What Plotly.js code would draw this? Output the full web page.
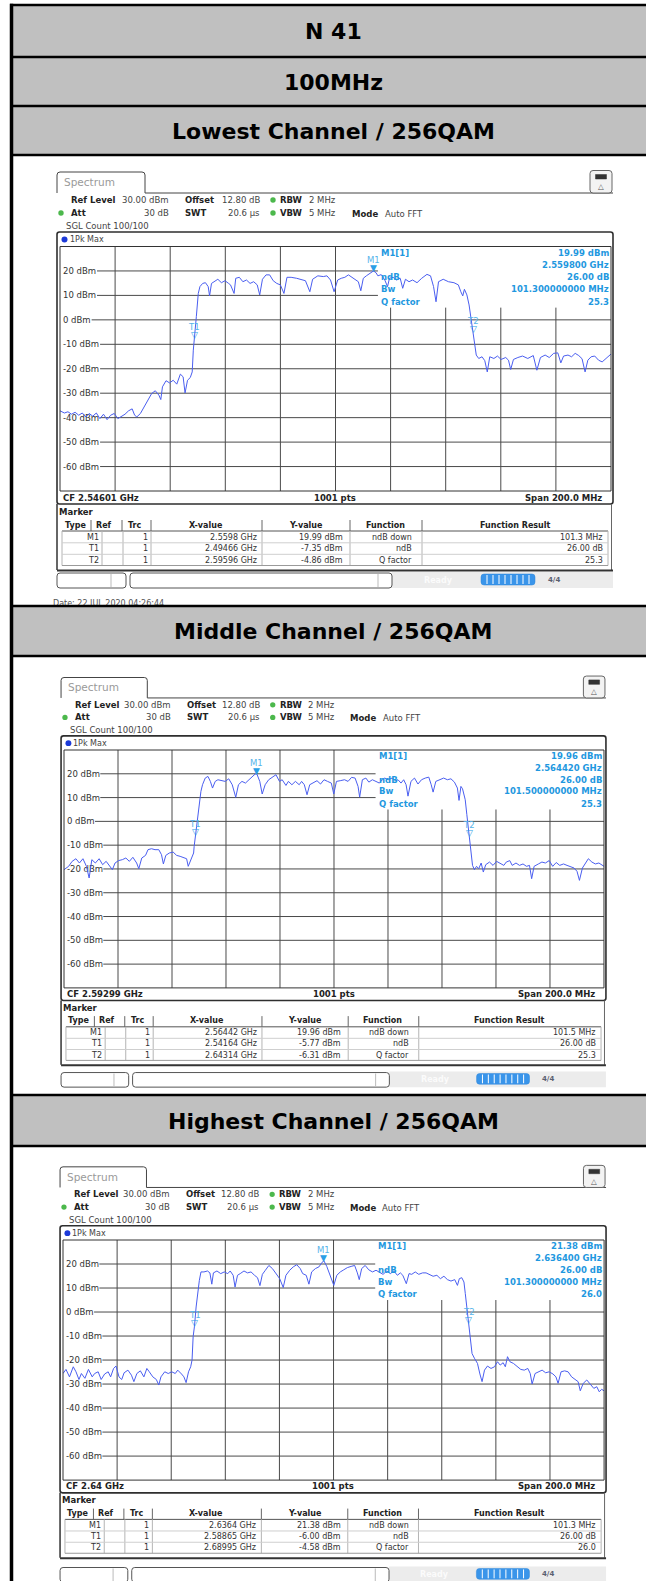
<!DOCTYPE html>
<html><head><meta charset="utf-8">
<script src="https://cdn.plot.ly/plotly-3.0.1.min.js"></script>
<style>html,body{margin:0;padding:0;background:#fff;}#chart{width:646px;height:1581px;}</style>
</head><body><div id="chart"></div>
<script>
// ================= DATA =================
const rowTitles = ['N 41', '100MHz', 'Lowest Channel / 256QAM', 'Middle Channel / 256QAM', 'Highest Channel / 256QAM'];
const yTickVals = [20, 10, 0, -10, -20, -30, -40, -50, -60];
const yTickText = yTickVals.map(v => v + ' dBm');
const centerFreqMHz = [2546.01, 2592.99, 2640.00];
const spanMHz = 200;
const cfText = ['CF 2.54601 GHz', 'CF 2.59299 GHz', 'CF 2.64 GHz'];
const markerNames = ['M1', 'T1', 'T2'];
const functionNames = ['ndB down', 'ndB', 'Q factor'];

// Lowest channel trace (MHz, dBm)
const lowFreqMHz = [2446.0,2447.6,2448.9,2450.2,2451.5,2452.8,2454.1,2455.4,2456.6,2457.9,
2459.2,2460.5,2461.8,2463.1,2464.4,2465.7,2467.0,2468.3,2469.6,2470.9,
2472.2,2473.1,2473.9,2475.2,2476.5,2477.8,2479.3,2480.6,2481.9,2482.6,
2483.2,2484.5,2485.8,2487.1,2488.4,2489.7,2490.7,2491.4,2492.3,2493.3,
2494.0,2494.4,2494.9,2495.5,2496.2,2496.8,2497.8,2498.8,2499.8,2500.3,
2501.0,2502.0,2503.3,2504.6,2505.9,2507.2,2507.9,2509.2,2509.8,2511.1,
2512.4,2513.7,2515.0,2516.3,2517.6,2518.5,2519.5,2520.8,2522.1,2523.4,
2524.7,2526.0,2527.3,2528.4,2529.9,2531.9,2533.8,2535.1,2536.7,2537.7,
2539.6,2541.6,2542.9,2544.2,2545.5,2546.8,2548.1,2549.4,2550.7,2552.0,
2553.3,2554.3,2555.2,2556.1,2557.2,2558.5,2559.8,2560.7,2561.4,2562.6,
2563.9,2564.9,2565.6,2566.9,2568.2,2569.5,2570.4,2571.4,2572.7,2574.0,
2575.6,2577.3,2579.2,2580.5,2581.6,2582.5,2583.4,2585.1,2587.0,2589.0,
2590.6,2591.5,2592.2,2592.8,2593.7,2594.5,2595.2,2596.0,2596.6,2597.1,
2598.0,2599.2,2600.2,2601.1,2602.0,2603.5,2604.8,2606.1,2607.8,2608.8,
2609.6,2610.6,2612.2,2613.9,2615.8,2617.8,2619.1,2620.4,2622.1,2623.6,
2625.2,2626.7,2627.8,2628.8,2630.4,2631.7,2633.0,2634.3,2635.5,2636.6,
2637.6,2638.8,2640.1,2641.5,2642.8,2644.4,2646.0];
const lowLevelDbm = [-37.2,-38.1,-37.6,-38.6,-37.8,-39.0,-38.1,-39.7,-38.3,-39.4,
-38.1,-40.4,-38.6,-40.8,-39.0,-38.3,-40.4,-39.4,-38.6,-37.2,
-36.4,-39.0,-39.7,-38.3,-35.6,-32.9,-30.1,-29.0,-30.8,-32.6,
-27.4,-24.9,-25.8,-24.7,-26.3,-22.2,-23.3,-29.9,-24.7,-23.6,
-21.3,-12.4,-6.9,1.3,10.8,13.6,14.9,15.2,13.6,9.8,
14.9,15.6,16.6,15.2,16.0,14.9,14.3,10.8,17.0,17.4,
15.6,16.3,14.9,15.6,14.3,10.2,16.6,18.4,18.4,16.0,
14.9,14.3,10.8,17.4,17.4,17.0,16.3,16.0,11.5,16.6,
18.0,17.7,18.0,16.3,11.5,16.3,17.0,17.4,18.4,17.4,
16.6,15.6,11.9,17.0,18.0,19.0,20.0,19.3,18.0,18.5,
16.3,13.6,17.0,17.4,16.3,17.0,12.9,16.6,15.6,16.3,
15.2,17.0,18.6,18.0,13.6,7.4,15.6,16.6,15.6,15.2,
14.3,11.5,9.8,12.5,10.2,6.1,0.6,-4.9,-11.7,-14.4,
-15.8,-15.1,-16.7,-21.3,-15.1,-15.8,-14.8,-16.2,-15.4,-16.5,
-20.3,-16.2,-15.4,-14.8,-15.8,-14.6,-20.6,-15.4,-14.4,-15.4,
-13.7,-13.5,-17.6,-14.8,-14.4,-15.1,-13.7,-14.6,-15.9,-21.3,
-16.5,-15.1,-14.8,-16.5,-17.2,-15.4,-14.0];
const lowMarkerGHz = [2.5598, 2.49466, 2.59596];
const lowMarkerDbm = [19.99, -7.35, -4.86];
const lowMarkerXText = ['2.5598 GHz', '2.49466 GHz', '2.59596 GHz'];
const lowFuncResult = ['101.3 MHz', '26.00 dB', '25.3'];
const lowInfo = ['19.99 dBm', '2.559800 GHz', '26.00 dB', '101.300000000 MHz', '25.3'];

// Middle channel trace
const midFreqMHz = [2493.0,2494.7,2496.0,2497.4,2498.7,2500.0,2501.3,2502.3,2503.3,2504.6,
2506.0,2507.3,2508.6,2509.9,2510.9,2511.9,2513.2,2514.6,2515.9,2517.2,
2518.5,2519.9,2520.7,2521.8,2523.2,2524.1,2525.4,2526.7,2528.1,2529.1,
2529.8,2530.7,2532.0,2533.4,2534.7,2536.0,2537.3,2538.4,2539.0,2540.0,
2541.0,2541.2,2541.7,2542.6,2543.0,2543.7,2544.3,2545.3,2546.3,2547.2,
2548.0,2549.0,2550.0,2551.3,2552.7,2554.0,2555.3,2556.6,2557.6,2558.9,
2560.2,2561.5,2562.9,2563.8,2564.4,2565.5,2566.4,2567.5,2568.8,2570.4,
2571.5,2572.8,2573.8,2575.2,2576.1,2577.4,2578.7,2580.1,2581.0,2582.0,
2583.0,2584.0,2585.3,2586.7,2588.0,2589.3,2590.6,2592.0,2592.9,2593.9,
2595.3,2596.9,2598.2,2599.5,2600.8,2601.9,2602.5,2603.5,2604.8,2605.9,
2607.2,2608.5,2609.8,2610.9,2611.8,2613.1,2614.5,2615.8,2616.7,2617.8,
2618.8,2619.7,2620.4,2621.5,2622.8,2624.1,2625.4,2626.8,2628.1,2629.0,
2629.7,2630.7,2632.0,2633.6,2635.0,2636.3,2637.6,2638.7,2639.3,2640.0,
2640.6,2641.6,2642.2,2643.1,2643.7,2644.3,2645.0,2645.8,2646.6,2647.5,
2648.3,2649.2,2650.6,2651.9,2653.2,2654.5,2655.9,2656.8,2658.1,2659.0,
2660.4,2661.7,2663.0,2664.3,2665.4,2666.2,2667.1,2668.7,2670.0,2671.3,
2672.7,2674.0,2675.3,2676.6,2678.0,2679.3,2680.6,2681.9,2683.0,2683.9,
2685.0,2686.3,2687.2,2688.5,2689.8,2691.1,2693.0];
const midLevelDbm = [-20.3,-18.9,-16.8,-15.7,-17.5,-15.7,-18.9,-23.8,-16.1,-17.5,
-15.7,-18.2,-16.8,-18.9,-20.3,-17.5,-16.5,-16.1,-15.4,-16.8,
-15.1,-17.5,-19.9,-15.4,-14.3,-11.9,-11.5,-11.9,-11.9,-14.0,
-17.9,-14.3,-13.3,-12.9,-14.3,-14.7,-15.1,-15.7,-18.9,-16.1,
-13.3,-10.5,-5.8,1.4,7.7,12.6,15.4,18.2,18.9,16.8,
14.0,16.8,17.5,17.1,16.8,17.9,15.4,10.1,15.4,16.8,
16.1,17.5,18.9,19.9,20.0,16.8,11.5,15.4,17.5,18.9,
19.6,16.8,17.5,15.1,16.8,15.4,16.8,15.4,16.8,15.4,
11.2,15.4,16.1,17.1,15.7,17.5,16.8,16.1,11.5,16.8,
17.1,17.5,16.8,18.5,18.2,14.7,10.2,17.5,18.2,16.5,
17.5,16.8,16.1,17.5,18.2,17.5,18.2,17.1,17.5,16.1,
17.5,15.4,10.6,16.8,18.2,15.7,17.5,18.2,18.6,15.4,
12.3,16.8,17.5,18.2,17.5,17.9,16.5,14.0,8.8,14.7,
13.7,9.1,2.8,-6.3,-12.6,-18.5,-20.3,-18.9,-19.9,-17.5,
-21.3,-18.2,-17.1,-18.5,-16.8,-17.5,-18.5,-17.1,-16.5,-18.5,
-17.5,-18.5,-17.9,-18.9,-18.5,-24.1,-18.9,-17.9,-17.1,-17.5,
-16.5,-18.9,-17.3,-18.5,-17.9,-18.5,-19.0,-19.6,-21.0,-24.8,
-19.6,-17.5,-15.7,-17.1,-17.9,-17.5,-18.9];
const midMarkerGHz = [2.56442, 2.54164, 2.64314];
const midMarkerDbm = [19.96, -5.77, -6.31];
const midMarkerXText = ['2.56442 GHz', '2.54164 GHz', '2.64314 GHz'];
const midFuncResult = ['101.5 MHz', '26.00 dB', '25.3'];
const midInfo = ['19.96 dBm', '2.564420 GHz', '26.00 dB', '101.500000000 MHz', '25.3'];

// Highest channel trace
const highFreqMHz = [2540.0,2541.1,2542.4,2543.8,2544.8,2545.9,2546.8,2548.1,2549.4,2550.8,
2551.7,2553.0,2554.1,2555.4,2556.7,2557.6,2558.7,2559.6,2560.7,2561.7,
2562.6,2564.0,2565.3,2566.2,2567.3,2568.6,2569.9,2571.0,2571.9,2573.2,
2574.5,2575.4,2576.2,2577.6,2578.9,2580.2,2581.5,2582.4,2583.8,2584.7,
2585.5,2586.4,2587.2,2587.7,2588.1,2588.6,2589.2,2589.7,2590.4,2591.0,
2592.1,2593.4,2594.3,2595.0,2595.6,2596.9,2598.3,2599.6,2600.9,2601.8,
2602.9,2603.6,2604.5,2605.5,2606.9,2608.2,2609.5,2610.8,2611.9,2612.8,
2613.7,2614.8,2616.1,2617.4,2618.7,2620.1,2621.4,2622.4,2623.8,2625.1,
2626.4,2627.7,2628.6,2629.9,2630.9,2631.9,2633.3,2634.6,2635.6,2636.4,
2637.5,2638.5,2639.3,2640.1,2641.2,2642.5,2643.8,2645.1,2646.5,2647.8,
2648.8,2649.5,2650.4,2651.7,2653.0,2654.4,2655.7,2657.0,2658.3,2659.7,
2661.0,2662.3,2663.6,2664.7,2665.6,2666.9,2667.9,2668.9,2670.2,2671.5,
2672.9,2674.2,2675.5,2676.8,2678.2,2679.5,2680.8,2682.1,2683.4,2684.8,
2685.8,2686.5,2687.4,2688.2,2688.7,2689.4,2689.9,2690.6,2691.2,2692.1,
2693.2,2694.1,2694.9,2695.8,2696.9,2698.2,2699.5,2700.6,2701.6,2702.7,
2703.5,2704.3,2705.2,2706.5,2707.9,2709.2,2710.5,2711.8,2712.7,2713.4,
2714.5,2715.8,2717.1,2718.4,2719.7,2721.1,2722.2,2723.0,2724.1,2725.4,
2726.7,2728.0,2729.4,2730.4,2731.2,2732.3,2733.6,2734.9,2736.2,2737.3,
2738.2,2739.1,2740.0];
const highLevelDbm = [-25.6,-23.9,-27.0,-22.8,-24.9,-28.1,-25.6,-27.6,-23.9,-27.0,
-25.6,-24.9,-28.1,-25.8,-24.9,-27.0,-23.5,-22.5,-27.0,-28.1,
-25.3,-24.2,-26.3,-29.0,-25.6,-24.5,-27.0,-23.5,-24.9,-27.0,
-28.1,-30.4,-27.0,-24.9,-25.6,-24.9,-25.6,-24.2,-25.8,-27.0,
-29.4,-24.9,-22.8,-20.0,-10.3,-5.9,2.1,7.7,13.2,16.7,
16.7,17.1,16.3,11.6,16.3,17.1,16.0,16.7,16.0,17.1,
15.3,10.4,15.3,16.0,17.1,16.3,16.7,15.3,14.3,11.0,
15.7,17.4,19.4,18.1,16.0,13.9,10.2,15.3,17.4,18.8,
19.7,18.1,16.0,15.3,11.6,16.7,18.1,18.8,20.4,21.4,
19.0,16.0,13.9,11.1,15.3,16.7,17.6,18.5,19.0,19.4,
16.3,13.5,18.1,19.4,17.6,16.7,17.4,16.7,15.7,17.1,
16.0,17.1,15.3,16.3,15.3,11.8,16.0,15.7,16.7,15.7,
16.3,16.3,15.7,14.9,15.3,13.9,14.9,13.5,12.9,13.5,
11.1,13.9,14.3,12.5,7.7,0.7,-4.5,-11.7,-17.3,-19.3,
-21.4,-25.8,-29.0,-24.2,-22.5,-23.5,-22.8,-20.7,-22.1,-21.1,
-22.8,-18.6,-20.7,-21.4,-22.8,-23.9,-24.2,-23.5,-25.6,-30.0,
-25.6,-24.9,-24.2,-25.3,-24.9,-25.8,-27.0,-29.7,-24.9,-24.5,
-24.9,-27.0,-28.1,-29.0,-32.8,-29.7,-28.3,-30.0,-31.8,-31.1,
-33.2,-32.2,-32.8];
const highMarkerGHz = [2.6364, 2.58865, 2.68995];
const highMarkerDbm = [21.38, -6.00, -4.58];
const highMarkerXText = ['2.6364 GHz', '2.58865 GHz', '2.68995 GHz'];
const highFuncResult = ['101.3 MHz', '26.00 dB', '26.0'];
const highInfo = ['21.38 dBm', '2.636400 GHz', '26.00 dB', '101.300000000 MHz', '26.0'];

// ================= LAYOUT / STYLE =================
const W = 646, H = 1581;
const GRID_W = 551, GRID_H = 244.5;
const panelGeom = [
  {gx: 60, gy: 246.5, sx: 1.000, sy: 1.000, statusShift: 0, date: true},
  {gx: 64, gy: 750,   sx: 0.980, sy: 0.973, statusShift: 5, date: false},
  {gx: 63, gy: 1240,  sx: 0.982, sy: 0.982, statusShift: 7, date: false}
];
const series = [
  {f: lowFreqMHz,  l: lowLevelDbm,  mg: lowMarkerGHz,  ml: lowMarkerDbm,  mx: lowMarkerXText,  fr: lowFuncResult,  info: lowInfo},
  {f: midFreqMHz,  l: midLevelDbm,  mg: midMarkerGHz,  ml: midMarkerDbm,  mx: midMarkerXText,  fr: midFuncResult,  info: midInfo},
  {f: highFreqMHz, l: highLevelDbm, mg: highMarkerGHz, ml: highMarkerDbm, mx: highMarkerXText, fr: highFuncResult, info: highInfo}
];

const F = 'DejaVu Sans';
const TRACE = '#4a5ef0', MK = '#2a9ee6', MKL = '#56b4ea', INFO = '#1f98e0', GRID = '#4a4a4a';
const shapes = [], annotations = [], traces = [];
const layoutAxes = {};

function addText(x, y, text, o) {
  o = o || {};
  annotations.push({xref: 'x4', yref: 'y4', x: x, y: y, text: text, showarrow: false,
    xanchor: o.anchor || 'left', yanchor: 'middle', borderpad: 0,
    font: {family: o.family || F, size: o.size || 8.5, color: o.color || '#333'}});
}
function addLine(x0, y0, x1, y1, color, width) {
  shapes.push({type: 'line', xref: 'x4', yref: 'y4', x0, y0, x1, y1, line: {color, width}, layer: 'above'});
}
function addRect(x0, y0, x1, y1, lc, w, fill) {
  shapes.push({type: 'rect', xref: 'x4', yref: 'y4', x0, y0, x1, y1,
    line: {color: lc || 'rgba(0,0,0,0)', width: w || 0}, fillcolor: fill || 'rgba(0,0,0,0)', layer: 'above'});
}
function addPath(path, lc, w, fill) {
  shapes.push({type: 'path', xref: 'x4', yref: 'y4', path,
    line: {color: lc || 'rgba(0,0,0,0)', width: w || 0}, fillcolor: fill || 'rgba(0,0,0,0)', layer: 'above'});
}
function rrPath(x0, y0, x1, y1, r) {
  return `M${x0+r},${y0} L${x1-r},${y0} Q${x1},${y0} ${x1},${y0+r} L${x1},${y1-r} Q${x1},${y1} ${x1-r},${y1} L${x0+r},${y1} Q${x0},${y1} ${x0},${y1-r} L${x0},${y0+r} Q${x0},${y0} ${x0+r},${y0} Z`;
}
const CW = {'0':.636,'1':.636,'2':.636,'3':.636,'4':.636,'5':.636,'6':.636,'7':.636,'8':.636,'9':.636,'-':.361,' ':.318,'d':.635,'B':.686,'m':.974};
function labelWidth(s, size) { let w = 0; for (const c of s) w += (CW[c] || .6); return w * size; }

// ---------- outer table ----------
const rowBands = [[5, 57], [57, 106], [106, 155], [606, 656], [1095, 1146]];
rowBands.forEach((b, i) => {
  addRect(12, b[0], W, b[1], null, 0, '#c0c0c0');
  addText(333, (b[0] + b[1]) / 2 + 0.5, '<b>' + rowTitles[i] + '</b>', {anchor: 'center', size: 22, color: '#000'});
});
[5, 57, 106, 155, 606, 656, 1095, 1146].forEach(y => addLine(10, y, W, y, '#000', 2.6));
addLine(11.5, 3.8, 11.5, H, '#000', 3.5);

// ---------- panels ----------
panelGeom.forEach((P, i) => {
  const S = series[i];
  const sfx = i === 0 ? '' : String(i + 1);
  const xa = 'x' + sfx, ya = 'y' + sfx;
  const cf = centerFreqMHz[i];
  const f0 = cf - spanMHz / 2, f1 = cf + spanMHz / 2;
  const T = (x, y) => [P.gx + (x - 60) * P.sx, P.gy + (y - 246.5) * P.sy];
  const tx = (x, y, t, o) => { const p = T(x, y); addText(p[0], p[1], t, o); };
  const ln = (x0, y0, x1, y1, c, w) => { const a = T(x0, y0), b = T(x1, y1); addLine(a[0], a[1], b[0], b[1], c, w); };
  const rc = (x0, y0, x1, y1, c, w, f) => { const a = T(x0, y0), b = T(x1, y1); addRect(a[0], a[1], b[0], b[1], c, w, f); };
  const rr = (x0, y0, x1, y1, r, c, w, f) => { const a = T(x0, y0), b = T(x1, y1); addPath(rrPath(a[0], a[1], b[0], b[1], r), c, w, f); };
  const dot = (x, y, r, f) => { const a = T(x - r, y - r), b = T(x + r, y + r);
    shapes.push({type: 'circle', xref: 'x4', yref: 'y4', x0: a[0], y0: a[1], x1: b[0], y1: b[1], fillcolor: f, line: {width: 0}, layer: 'above'}); };

  const gw = GRID_W * P.sx, gh = GRID_H * P.sy;
  layoutAxes['xaxis' + sfx] = {domain: [P.gx / W, (P.gx + gw) / W], range: [f0, f1], visible: false, fixedrange: true, anchor: ya};
  layoutAxes['yaxis' + sfx] = {domain: [1 - (P.gy + gh) / H, 1 - P.gy / H], range: [-70, 30], anchor: xa,
    tickmode: 'array', tickvals: yTickVals, ticktext: yTickText, ticklabelposition: 'inside', ticks: '',
    showgrid: false, zeroline: false, showline: false, layer: 'below traces', fixedrange: true,
    tickfont: {family: F, size: 8.5, color: '#333'}};

  for (let k = 1; k <= 9; k++) {
    const xv = f0 + k * spanMHz / 10;
    shapes.push({type: 'line', xref: xa, yref: ya, x0: xv, x1: xv, y0: -70, y1: k >= 6 ? 5 : 30, line: {color: GRID, width: 1}, layer: 'below'});
  }
  yTickVals.forEach((v, j) => {
    const start = (4 + labelWidth(yTickText[j], 8.5)) / GRID_W;
    shapes.push({type: 'line', xref: xa + ' domain', yref: ya, x0: start, x1: v >= 10 ? 0.577 : 1, y0: v, y1: v, line: {color: GRID, width: 1}, layer: 'below'});
  });
  shapes.push({type: 'rect', xref: xa + ' domain', yref: ya + ' domain', x0: 0, x1: 1, y0: 0, y1: 1, line: {color: '#333', width: 1}, layer: 'above'});

  traces.push({type: 'scatter', mode: 'lines', x: S.f, y: S.l, xaxis: xa, yaxis: ya,
    line: {color: TRACE, width: 1}, hoverinfo: 'skip', showlegend: false});

  markerNames.forEach((m, j) => {
    const xv = S.mg[j] * 1000, yv = S.ml[j];
    annotations.push({xref: xa, yref: ya, x: xv, y: yv, text: j === 0 ? '▼' : '▽', showarrow: false,
      yanchor: 'bottom', yshift: -3, borderpad: 0, font: {family: F, size: 9, color: MK}});
    annotations.push({xref: xa, yref: ya, x: xv, y: yv, text: m, showarrow: false,
      yanchor: 'bottom', yshift: 5, borderpad: 0, font: {family: F, size: 8.5, color: MKL}});
  });

  const infoLeft = ['M1[1]', '', 'ndB', 'Bw', 'Q factor'];
  const infoY = [253, 265, 277, 289, 301.5];
  infoLeft.forEach((t, j) => { if (t) tx(380, infoY[j], '<b>' + t + '</b>', {color: INFO, size: 8.5}); });
  S.info.forEach((t, j) => tx(610, infoY[j], '<b>' + t + '</b>', {anchor: 'right', color: INFO, size: 8.5}));

  const p = [T(57, 193), T(57, 175), T(57, 172), T(60, 172), T(142, 172), T(145, 172), T(145, 175), T(145, 193)];
  addPath(`M${p[0]} L${p[1]} Q${p[2]} ${p[3]} L${p[4]} Q${p[5]} ${p[6]} L${p[7]}`, '#444', 1);
  ln(145, 193, 613, 193, '#444', 1);
  tx(63, 182, 'Spectrum', {size: 10.5, color: '#9a9a9a'});
  rr(590, 170.5, 612, 193, 3, '#666', 1, '#f3f3f3');
  rc(595.5, 174.5, 606.5, 179, '#333', 0.5, '#333');
  tx(601, 186.5, '△', {anchor: 'center', size: 7.5, color: '#555'});

  tx(70, 200, '<b>Ref Level</b>', {color: '#222'});
  tx(170, 200, '30.00 dBm', {anchor: 'right', color: '#444'});
  tx(184, 200, '<b>Offset</b>', {color: '#222'});
  tx(261, 200, '12.80 dB', {anchor: 'right', color: '#444'});
  dot(273, 200, 2.7, '#4cb84c');
  tx(279, 200, '<b>RBW</b>', {color: '#222'});
  tx(308, 200, '2 MHz', {color: '#444'});
  dot(61, 213, 2.7, '#4cb84c');
  tx(70, 213, '<b>Att</b>', {color: '#222'});
  tx(170, 213, '30 dB', {anchor: 'right', color: '#444'});
  tx(184, 213, '<b>SWT</b>', {color: '#222'});
  tx(261, 213, '20.6 µs', {anchor: 'right', color: '#444'});
  dot(273, 213, 2.7, '#4cb84c');
  tx(279, 213, '<b>VBW</b>', {color: '#222'});
  tx(308, 213, '5 MHz', {color: '#444'});
  tx(351, 213.5, '<b>Mode</b>', {color: '#222'});
  tx(384, 213.5, 'Auto FFT', {color: '#444'});
  tx(65, 226, 'SGL Count 100/100', {color: '#444'});

  rr(57, 232, 613, 504, 2.5, '#2e2e2e', 1.6);
  dot(64.5, 239.5, 3, '#1c3ad8');
  tx(68.5, 239.5, '1Pk Max', {size: 8, color: '#444'});
  tx(62, 497.5, '<b>' + cfText[i] + '</b>', {color: '#222'});
  tx(335, 497.5, '<b>1001 pts</b>', {anchor: 'center', color: '#222'});
  tx(603, 497.5, '<b>Span 200.0 MHz</b>', {anchor: 'right', color: '#222'});

  tx(58, 511.5, '<b>Marker</b>', {color: '#222'});
  ln(57, 504, 57, 570, '#333', 1.5);
  ln(611.5, 504, 611.5, 570, '#666', 1);
  const hdr = ['Type', 'Ref', 'Trc', 'X-value', 'Y-value', 'Function', 'Function Result'];
  const hdrX = [75, 103.5, 135, 206, 306, 385, 515];
  hdr.forEach((h, j) => tx(hdrX[j], 525, '<b>' + h + '</b>', {anchor: 'center', size: 8, color: '#222'}));
  [91, 122, 151, 262, 350, 422].forEach(x => ln(x, 520, x, 531, '#666', 1));
  ln(62, 531, 608, 531, '#555', 1);
  [62, 102, 123, 151, 262, 350, 422, 608].forEach(x => ln(x, 531, x, 565.5, '#b4b4b4', 1));
  [542.8, 554.3].forEach(y => ln(62, y, 608, y, '#cfcfcf', 1));
  ln(62, 565.5, 608, 565.5, '#9a9a9a', 1);
  const rowY = [537, 548.5, 560];
  markerNames.forEach((m, j) => {
    tx(100, rowY[j], m, {anchor: 'right', size: 8, color: '#333'});
    tx(149, rowY[j], '1', {anchor: 'right', size: 8, color: '#333'});
    tx(258, rowY[j], S.mx[j], {anchor: 'right', size: 8, color: '#333'});
    tx(344, rowY[j], S.ml[j].toFixed(2) + ' dBm', {anchor: 'right', size: 8, color: '#333'});
    tx(413, rowY[j], functionNames[j], {anchor: 'right', size: 8, color: '#333'});
    tx(604, rowY[j], S.fr[j], {anchor: 'right', size: 8, color: '#333'});
  });
  ln(57, 570.5, 613, 570.5, '#333', 2);

  // status bar
  const d = P.statusShift;
  rc(392, 572 + d, 613, 588 + d, null, 0, '#ececec');
  rr(57, 573 + d, 126, 588 + d, 3, '#555', 1, '#fff');
  ln(111, 574 + d, 111, 587 + d, '#bbb', 1);
  rr(130, 573 + d, 392, 588 + d, 3, '#555', 1, '#fff');
  ln(378, 574 + d, 378, 587 + d, '#bbb', 1);
  tx(423, 580 + d, '<b>Ready</b>', {size: 8, color: '#fbfbfb'});
  rr(481, 574 + d, 535, 585 + d, 3, '#2f86d8', 0.5, '#3a95ea');
  for (let k = 487; k < 532; k += 6) ln(k, 575 + d, k, 584 + d, '#ffffff', 1);
  tx(547, 580 + d, '<b>4/4</b>', {size: 7, color: '#5a6070'});

  if (P.date) {
    const dp = T(53, 603.5);
    traces.push({type: 'scatter', mode: 'text', x: [dp[0]], y: [dp[1]], text: ['Date: 22.JUL.2020 04:26:44'],
      textposition: 'middle right', xaxis: 'x4', yaxis: 'y4', cliponaxis: false, hoverinfo: 'skip', showlegend: false,
      textfont: {family: F, size: 8, color: '#555'}});
  }
});

const layout = Object.assign({
  width: W, height: H, margin: {l: 0, r: 0, t: 0, b: 0, pad: 0},
  paper_bgcolor: '#ffffff', plot_bgcolor: 'rgba(0,0,0,0)', showlegend: false,
  xaxis4: {domain: [0, 1], range: [0, W], visible: false, fixedrange: true, anchor: 'y4'},
  yaxis4: {domain: [0, 1], range: [H, 0], visible: false, fixedrange: true, anchor: 'x4'},
  shapes: shapes, annotations: annotations
}, layoutAxes);

Plotly.newPlot('chart', traces, layout, {staticPlot: true, displayModeBar: false});
</script>
</body></html>
